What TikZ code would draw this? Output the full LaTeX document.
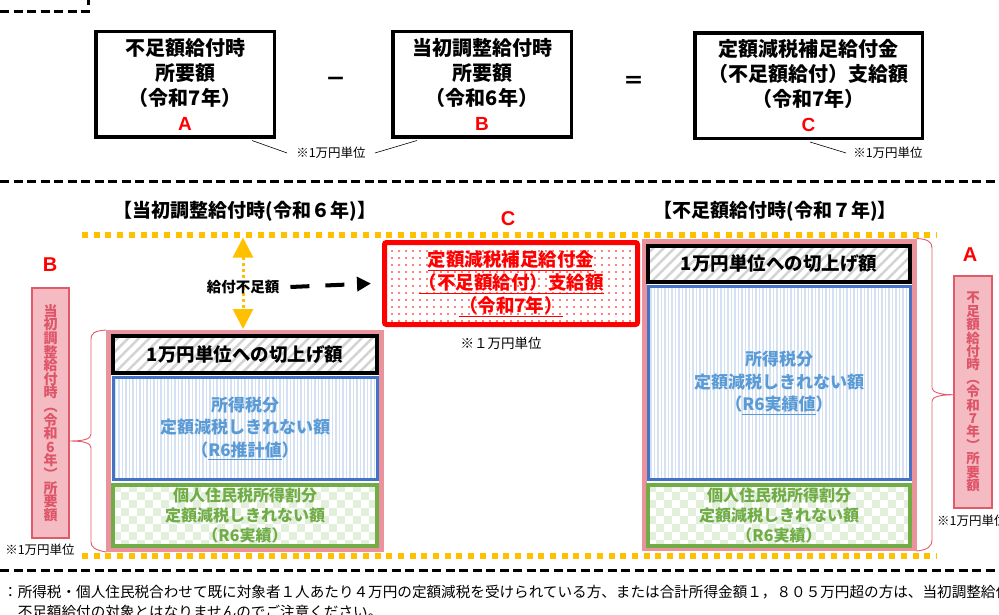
\documentclass[tikz,border=0pt]{standalone}
\usepackage{fontspec}
\setmainfont{Noto Sans CJK JP}
\newfontfamily\latinsans{Liberation Sans}
\usetikzlibrary{arrows.meta,patterns.meta}
\definecolor{orng}{HTML}{FFC000}
\definecolor{pinkbd}{HTML}{EA939C}
\definecolor{pinkfill}{HTML}{F4BCC2}
\definecolor{pinkdark}{HTML}{E05A6A}
\definecolor{pinktext}{HTML}{DE5468}
\definecolor{bluebd}{HTML}{4472C4}
\definecolor{bluestripe}{HTML}{D3E1F3}
\definecolor{bluetext}{HTML}{5B9BD5}
\definecolor{greenbd}{HTML}{70AD47}
\definecolor{greenchk}{HTML}{E2EFDA}
\definecolor{hatchgray}{HTML}{D3D3D3}
\newcommand{\fsz}[2]{\fontsize{#1}{#2}\selectfont}
\newcommand{\redletter}[1]{{\latinsans\bfseries\color{red}\fontsize{19}{25}\selectfont #1}}
\begin{document}
\begin{tikzpicture}[x=1pt,y=-1pt,
  txt/.style={inner sep=0pt, align=center},
  topbox/.style={draw=black, line width=3.5pt, minimum height=105.5pt, inner sep=0pt, align=center, font=\fsz{20}{25}\bfseries},
  note/.style={inner xsep=9pt, inner ysep=0pt, font=\fsz{12.5}{14}},
  sepline/.style={line width=3pt, dash pattern=on 9pt off 4.5pt},
  orngline/.style={orng, line width=6pt, dash pattern=on 6pt off 5.7pt},
  pinkframe/.style={draw=pinkbd, line width=5pt, fill=white, inner sep=0pt},
  hatchbox/.style={draw=black, line width=4pt, pattern={Lines[angle=45,distance=7.5pt,line width=2.5pt]}, pattern color=hatchgray, inner sep=0pt, font=\fsz{18.5}{22}\bfseries},
  bluebox/.style={draw=bluebd, line width=3pt, pattern={Lines[angle=90,distance=3.5pt,line width=1.3pt]}, pattern color=bluestripe, inner sep=0pt, align=center, text=bluetext, font=\fsz{17}{22.5}\bfseries},
  greenbox/.style={draw=greenbd, line width=4pt, inner sep=0pt, align=center, text=greenbd, font=\fsz{16}{20}\bfseries},
  sidebox/.style={draw=pinkdark, line width=2pt, fill=pinkfill, inner sep=0pt, align=center, text=pinktext, font=\fsz{14}{13.6}\bfseries},
  brace/.style={draw=pinkdark, line width=0.9pt},
  bigletter/.style={inner sep=0pt, text=red, font=\latinsans\bfseries\fsz{20}{22}},
]
\useasboundingbox (0,0) rectangle (999,615);

% ---- top dashed corner
\draw[sepline] (0,12) -- (88,12) -- (88,-3);

% ---- formula row
\node[topbox, minimum width=178.5pt] (boxA) at (185,84.5) {不足額給付時\\所要額\\（令和7年）\\\redletter{A}};
\node[topbox, minimum width=178.5pt] (boxB) at (482,84.5) {当初調整給付時\\所要額\\（令和6年）\\\redletter{B}};
\node[topbox, minimum width=227.5pt] (boxC) at (808.5,86) {定額減税補足給付金\\（不足額給付）支給額\\（令和7年）\\\redletter{C}};
\node[txt, font=\fsz{21}{24}\bfseries] (minus) at (336,82) {－};
\node[txt, font=\fsz{21}{24}\bfseries] (equals) at (634,82) {＝};

\node[note] (nAB) at (331,153) {※1万円単位};
\node[note, inner xsep=7pt] (nC) at (888,153) {※1万円単位};
\coordinate (cA) at (252,140.5);
\coordinate (cB) at (417,140.5);
\coordinate (cC) at (810,142);
\draw[line width=0.6pt] (cA) -- (nAB.west);
\draw[line width=0.6pt] (cB) -- (nAB.east);
\draw[line width=0.6pt] (cC) -- (nC.west);

% ---- separator
\draw[sepline] (0,182) -- (999,182);

% ---- section titles
\node[txt, font=\fsz{19}{22}\bfseries] (t6) at (245,211) {【当初調整給付時(令和６年)】};
\node[txt, font=\fsz{19}{22}\bfseries] (t7) at (775,211) {【不足額給付時(令和７年)】};
\node[bigletter] (letC) at (508,219) {C};

% ---- left stack (R6)
\node[pinkframe, minimum width=272.5pt, minimum height=217pt] (Lpink) at (244.75,441) {};
\begin{scope}
\clip (113,484) rectangle (377,545);
\foreach \i in {0,16,...,272} \foreach \j in {0,16,...,64} {
  \fill[greenchk] (113+\i,484+\j) rectangle ++(8,8);
  \fill[greenchk] (121+\i,492+\j) rectangle ++(8,8);}
\end{scope}
\node[hatchbox, minimum width=264pt, minimum height=37pt] (Lcut) at (245,354.5) {1万円単位への切上げ額};
\node[bluebox, minimum width=264pt, minimum height=102pt] (Ltax) at (245,428.5) {所得税分\\定額減税しきれない額\\（\underline{R6推計値}）};
\node[greenbox, minimum width=264pt, minimum height=61pt] (Lres) at (245,515.5) {個人住民税所得割分\\定額減税しきれない額\\（R6実績）};

% ---- right stack (R7)
\node[pinkframe, minimum width=270pt, minimum height=307.5pt] (Rpink) at (779,394.75) {};
\begin{scope}
\clip (648,484) rectangle (910,545);
\foreach \i in {0,16,...,272} \foreach \j in {0,16,...,64} {
  \fill[greenchk] (648+\i,484+\j) rectangle ++(8,8);
  \fill[greenchk] (656+\i,492+\j) rectangle ++(8,8);}
\end{scope}
\node[hatchbox, minimum width=262pt, minimum height=36pt] (Rcut) at (779,264) {1万円単位への切上げ額};
\node[bluebox, minimum width=262pt, minimum height=193.5pt] (Rtax) at (779,382.75) {所得税分\\定額減税しきれない額\\（\underline{R6実績値}）};
\node[greenbox, minimum width=262pt, minimum height=61pt] (Rres) at (779,515.5) {個人住民税所得割分\\定額減税しきれない額\\（R6実績）};

% ---- orange guide lines
\coordinate (oTL) at (82,234.5);
\coordinate (oTR) at (937,234.5);
\coordinate (oBL) at (82,555.5);
\coordinate (oBR) at (937,555.5);
\draw[orngline] (oTL) -- (oTR);
\draw[orngline] (oBL) -- (oBR);

% ---- gap arrow
\coordinate (gapT) at (243,237.5);
\coordinate (gapB) at (243,329);
\draw[orng, line width=3pt, dash pattern=on 3pt off 3pt, {Triangle[length=20pt,width=20pt]}-{Triangle[length=20pt,width=20pt]}] (gapT) -- (gapB);
\node[txt, font=\fsz{14.5}{16}\bfseries] (gaplbl) at (243,287) {給付不足額};

% ---- C box
\node[draw=red, line width=5pt, rounded corners=2pt, pattern={Dots[distance=7pt,radius=0.9pt]}, pattern color=red, minimum width=253pt, minimum height=82pt, inner sep=0pt, align=center, text=red, font=\fsz{18.5}{23}\bfseries] (Cbox) at (511,283.5) {\underline{定額減税補足給付金}\\\underline{（不足額給付）支給額}\\\underline{（令和7年）}};
\node[txt, font=\fsz{13.5}{15}] (nCbox) at (501,343) {※１万円単位};
\draw[line width=4pt, dash pattern=on 19pt off 16pt, -{Triangle[length=14pt,width=14pt]}] ([xshift=11pt]gaplbl.east) -- ([xshift=-11pt]Cbox.west);

% ---- side labels
\node[sidebox, minimum width=37pt, minimum height=250pt] (Bside) at (50.5,413) {当\\初\\調\\整\\給\\付\\時\\︵\\令\\和\\6\\年\\︶\\所\\要\\額};
\node[bigletter] (letB) at (50,265) {B};
\node[txt, font=\fsz{12.5}{14}] (nB) at (40,550) {※1万円単位};

\node[sidebox, minimum width=38pt, minimum height=232pt, font=\fsz{13.5}{13.4}\bfseries] (Aside) at (973,392) {不\\足\\額\\給\\付\\時\\︵\\令\\和\\7\\年\\︶\\所\\要\\額};
\node[bigletter] (letA) at (970,255) {A};
\node[txt, anchor=west, font=\fsz{12.5}{14}] (nA) at (937,521) {※1万円単位};

% ---- braces
\coordinate (Ltip) at (Bside.east |- Lpink.center);
\coordinate (Rtip) at (Aside.west |- Rpink.center);
\draw[brace] (Lpink.north west) .. controls (94,331) and (91,333) .. (91,340) -- (91,434) .. controls (91,439) and (84,441) .. (Ltip) .. controls (84,441) and (91,443) .. (91,448) -- (91,542) .. controls (91,548) and (96,550) .. (Lpink.south west);
\draw[brace] (Rpink.north east) .. controls (928,239) and (932,242) .. (932,248) -- (932,388) .. controls (932,392) and (940,394.75) .. (Rtip) .. controls (940,394.75) and (932,397) .. (932,401) -- (932,540) .. controls (932,546) and (928,550) .. (Rpink.south east);

% ---- footer
\draw[sepline] (0,570) -- (999,570);
\node[anchor=west, inner sep=0pt, align=left, font=\fsz{14.6}{20}] (foot) at (3,602) {：所得税・個人住民税合わせて既に対象者１人あたり４万円の定額減税を受けられている方、または合計所得金額１，８０５万円超の方は、当初調整給付\\　不足額給付の対象とはなりませんのでご注意ください。};
\end{tikzpicture}
\end{document}
